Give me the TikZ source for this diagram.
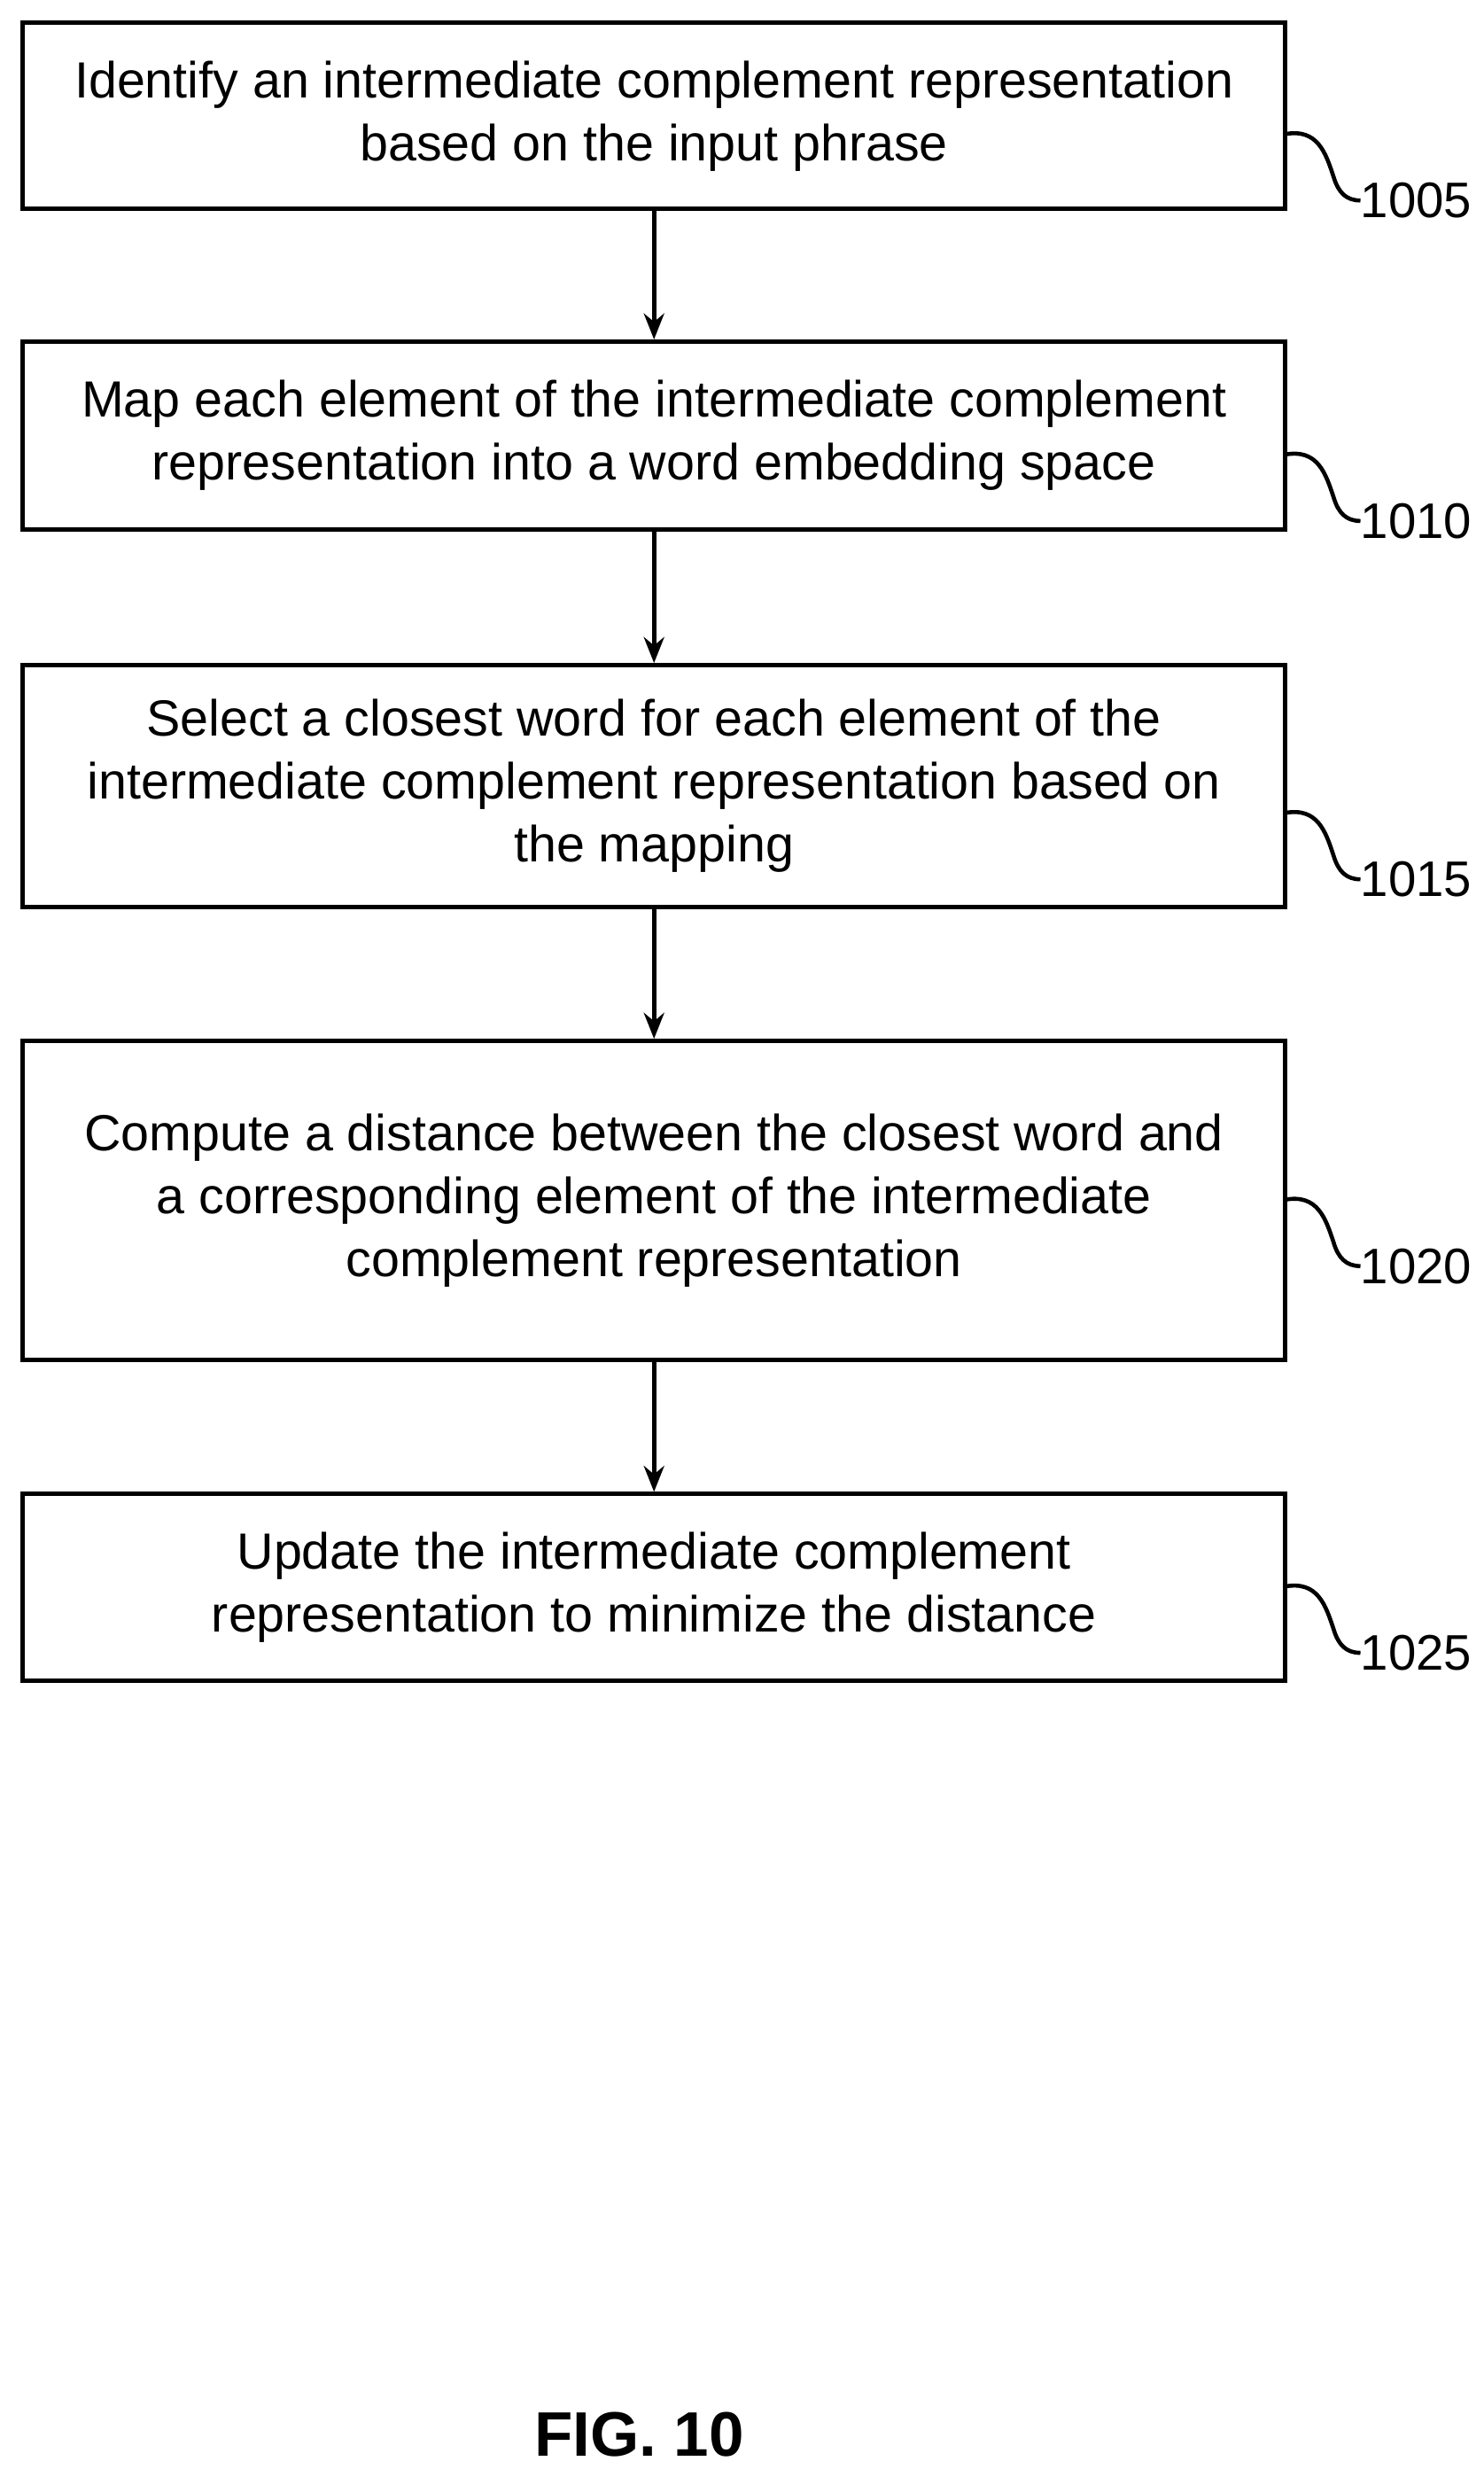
\documentclass[tikz,border=0pt]{standalone}
\usepackage{fontspec}
\setmainfont{Liberation Sans}
\usetikzlibrary{arrows.meta}
\begin{document}
\begin{tikzpicture}[x=0.03cm,y=-0.03cm,
  box/.style={draw,line width=2.4pt,inner sep=0pt,align=center,font=\fontsize{27.5}{34}\selectfont},
  arr/.style={line width=2.4pt,-{Stealth[length=14pt,width=11pt]}},
  sq/.style={line width=2.2pt},
  lab/.style={font=\fontsize{27}{30}\selectfont,anchor=west,inner sep=0pt}]
\useasboundingbox (0,0) rectangle (940,1564);
\newcommand\stepbox[4]{%
  \node[box,minimum width=800*0.03cm,minimum height=#3*0.03cm,anchor=north west] (#1) at (13,#2) {#4};}
\stepbox{b1}{13}{118}{Identify an intermediate complement representation\\based on the input phrase}
\stepbox{b2}{215}{119}{Map each element of the intermediate complement\\representation into a word embedding space}
\stepbox{b3}{420}{153}{Select a closest word for each element of the\\intermediate complement representation based on\\the mapping}
\stepbox{b4}{658}{202}{Compute a distance between the closest word and\\a corresponding element of the intermediate\\complement representation}
\stepbox{b5}{945}{118}{Update the intermediate complement\\representation to minimize the distance}
\foreach \a/\b in {b1/b2,b2/b3,b3/b4,b4/b5}{\draw[arr] (\a.south) -- (\b.north);}
\foreach \b/\n/\y in {b1/1005/127,b2/1010/330,b3/1015/557,b4/1020/802,b5/1025/1047}{
  \node[lab] (l\n) at (862,\y) {\n};
  \coordinate (s\n) at (814,\y-42);
  \draw[sq] (s\n) .. controls (835,\y-46) and (840,\y-30) .. (845,\y-15) .. controls (848,\y-5) and (853,\y) .. (l\n.west);
}
\node[font=\bfseries\fontsize{34}{40}\selectfont] (fig) at (405,1542) {FIG. 10};
\end{tikzpicture}
\end{document}
